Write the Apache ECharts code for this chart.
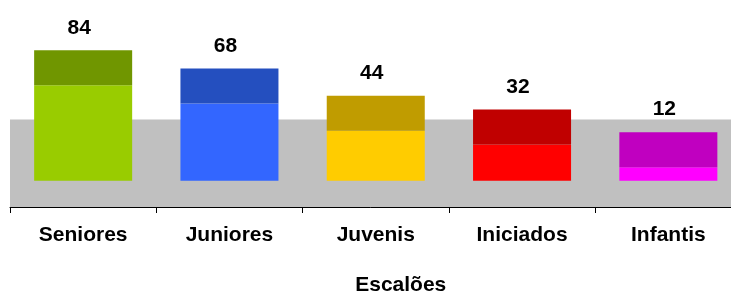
<!DOCTYPE html>
<html>
<head>
<meta charset="utf-8">
<script src="https://cdn.jsdelivr.net/npm/echarts@6/dist/echarts.min.js"></script>
<style>
  html, body { margin: 0; padding: 0; background: #fff; }
  #chart { width: 731px; height: 291px; }
</style>
</head>
<body>
<div id="chart"></div>
<script>
const categories = ["Seniores", "Juniores", "Juvenis", "Iniciados", "Infantis"];
const values = [84, 68, 44, 32, 12];
const axisName = "Escalões";

// front face / top face of each 3d column
const frontColors = ["#99cc00", "#3366ff", "#ffcc00", "#ff0000", "#ff00ff"];
const topColors = ["#709600", "#244fbf", "#c09c00", "#c00000", "#c000c0"];
const depth = 35;
const font = '"Liberation Sans", Arial, sans-serif';

const chart = echarts.init(document.getElementById("chart"));

function renderItem(params, api) {
  const i = api.value(0);
  const base = api.coord([i, 0]);
  const top = api.coord([i, api.value(1)]);
  const w = api.size([1, 0])[0] * 0.67;
  const x = base[0] - w / 2;
  return {
    type: "group",
    children: [
      {
        type: "rect",
        shape: { x: x, y: top[1], width: w, height: base[1] - top[1] },
        style: { fill: frontColors[i] }
      },
      {
        type: "rect",
        shape: { x: x, y: top[1] - depth, width: w, height: depth },
        style: { fill: topColors[i] }
      },
      {
        type: "text",
        x: base[0] - 4,
        y: top[1] - depth - 12,
        style: {
          text: String(api.value(1)),
          fill: "#000",
          font: "bold 21px " + font,
          align: "center",
          verticalAlign: "bottom"
        }
      }
    ]
  };
}

chart.setOption({
  animation: false,
  grid: { left: 10, top: 0, width: 731.5, bottom: 84, outerBoundsMode: "none" },
  xAxis: {
    type: "category",
    data: categories,
    z: 10,
    name: axisName,
    nameLocation: "middle",
    nameGap: 68,
    nameTextStyle: {
      color: "#000",
      fontWeight: "bold",
      fontSize: 21,
      fontFamily: font,
      padding: [0, 0, 0, 50]
    },
    axisLine: { onZero: false, lineStyle: { color: "#000", width: 1 } },
    axisTick: { show: true, length: 6, lineStyle: { color: "#000" } },
    axisLabel: { color: "#000", fontWeight: "bold", fontSize: 21, fontFamily: font, margin: 18 },
    splitLine: { show: false }
  },
  yAxis: { type: "value", min: -23, max: 159, show: false },
  series: [
    {
      type: "custom",
      z: 3,
      data: values.map((v, i) => [i, v]),
      renderItem: renderItem,
      markArea: {
        silent: true,
        itemStyle: { color: "#c0c0c0" },
        data: [[{ yAxis: -23 }, { yAxis: 54 }]]
      }
    }
  ]
});
</script>
</body>
</html>
